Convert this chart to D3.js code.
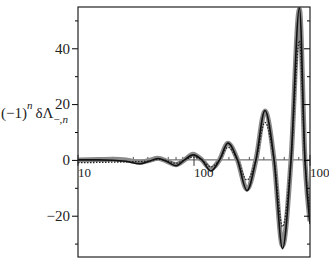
<!DOCTYPE html>
<html>
<head>
<meta charset="utf-8">
<script src="https://cdn.jsdelivr.net/npm/d3@7"></script>
<style>
  body { margin: 0; background: #fff; }
  text { font-family: "Liberation Serif", "Times New Roman", serif; }
</style>
</head>
<body>
<svg id="chart" width="329" height="261"></svg>
<script>
// sample positions (log axis) shared by all three curves
var xVals = [10, 15, 20, 26, 34.2, 40.9, 48.9, 58.5, 70, 82.8, 98, 117, 140, 166, 196,
             237, 286, 342, 409, 490, 580, 686, 811, 905, 1000];
// thick grey curve
var greyVals = [0, 0.1, 0.2, 0, -0.9, -0.2, 0.6, -0.5, -1.7, 0, 2.0, 0, -3.2, 0, 6.0,
                0, -10.5, 0, 17.5, 0, -30.8, 0, 54, 0, -22];
// thin black curve
var blackVals = [0, 0, -0.1, -0.5, -1.4, -0.5, 0.5, -0.6, -2.1, 0, 1.8, 0, -4.0, 0, 6.0,
                 0, -11, 0, 17.7, 0, -31.8, 0, 54.5, 0, -23];
// dotted curve
var dotVals = [-1.0, -0.9, -0.8, -0.7, -0.6, -0.4, 0.2, -0.3, -1.2, 0, 1.0, 0, -2.5, 0, 4.5,
               0, -7.2, 0, 13.4, 0, -23.9, 0, 42.7, 0, -18];

var yMajor = [-20, 0, 20, 40];
var yMinor = [-30, -10, 10, 30, 50];
var xMajor = [10, 100, 1000];
var xMinor = [20, 30, 40, 50, 60, 70, 80, 90, 200, 300, 400, 500, 600, 700, 800, 900];

var marginLeft = 78, marginTop = 7, w = 232, h = 250;

var svg = d3.select("#chart");
var g = svg.append("g").attr("transform", "translate(" + marginLeft + "," + marginTop + ")");

var x = d3.scaleLog().domain([10, 1000]).range([0, w]);
var y = d3.scaleLinear().domain([-34.8, 54.8]).range([h, 0]);

g.append("clipPath").attr("id", "clip")
    .append("rect").attr("width", w).attr("height", h);

// zero line with its ticks
var zero = g.append("g").attr("transform", "translate(0," + y(0) + ")");
zero.append("line").attr("x1", 0).attr("x2", w)
    .attr("stroke", "#555").attr("stroke-width", 1);
zero.selectAll(".xmin").data(xMinor).enter().append("line")
    .attr("x1", d => x(d)).attr("x2", d => x(d))
    .attr("y1", 0).attr("y2", -3)
    .attr("stroke", "#555");
zero.selectAll(".xmaj").data(xMajor).enter().append("line")
    .attr("x1", d => x(d)).attr("x2", d => x(d))
    .attr("y1", -5).attr("y2", 6)
    .attr("stroke", "#333");
zero.selectAll(".xlab").data(xMajor).enter().append("text")
    .attr("x", d => x(d))
    .attr("y", 17)
    .style("font-size", "13px")
    .attr("fill", "#222")
    .text(d => d);

// curves
var line = function(vals) {
    return d3.line()
        .x((d, i) => x(xVals[i]))
        .y(d => y(d))
        .curve(d3.curveMonotoneX)(vals);
};
var curves = g.append("g").attr("clip-path", "url(#clip)");
curves.append("path").attr("d", line(greyVals))
    .attr("fill", "none").attr("stroke", "#8a8a8a").attr("stroke-width", 5);
curves.append("path").attr("d", line(dotVals))
    .attr("fill", "none").attr("stroke", "#222").attr("stroke-width", 1.3)
    .attr("stroke-dasharray", "1.5,1.5");
curves.append("path").attr("d", line(blackVals))
    .attr("fill", "none").attr("stroke", "#111").attr("stroke-width", 1.6);

// left axis, ticks outward
var axL = g.append("g");
axL.call(d3.axisLeft(y).tickValues(yMajor).tickSize(6).tickPadding(2)
    .tickFormat(d => d < 0 ? "\u2212" + Math.abs(d) : d));
axL.select(".domain").remove();
axL.selectAll("text").style("font-size", "15px")
    .style("font-family", "Liberation Serif, serif").attr("fill", "#222");
g.append("g").call(d3.axisLeft(y).tickValues(yMinor).tickSize(3).tickFormat(""))
    .select(".domain").remove();

// right axis, ticks inward
var axR = g.append("g").attr("transform", "translate(" + w + ",0)");
axR.call(d3.axisLeft(y).tickValues(yMajor).tickSize(6).tickFormat(""));
axR.select(".domain").remove();
var axR2 = g.append("g").attr("transform", "translate(" + w + ",0)");
axR2.call(d3.axisLeft(y).tickValues(yMinor).tickSize(3).tickFormat(""));
axR2.select(".domain").remove();

// frame
g.append("rect").attr("width", w).attr("height", h)
    .attr("fill", "none").attr("stroke", "#222").attr("stroke-width", 1.2);

// y title
var t = svg.append("text").attr("x", 1).attr("y", 118)
    .style("font-size", "15px").attr("fill", "#222");
t.append("tspan").text("(\u22121)");
t.append("tspan").attr("dy", -9).style("font-size", "11px")
    .style("font-style", "italic").text("n");
t.append("tspan").attr("dy", 9).text("\u2009\u03b4\u039b");
t.append("tspan").attr("dy", 5).style("font-size", "11px").text("\u2212,");
t.append("tspan").style("font-size", "11px").style("font-style", "italic").text("n");
</script>
</body>
</html>
